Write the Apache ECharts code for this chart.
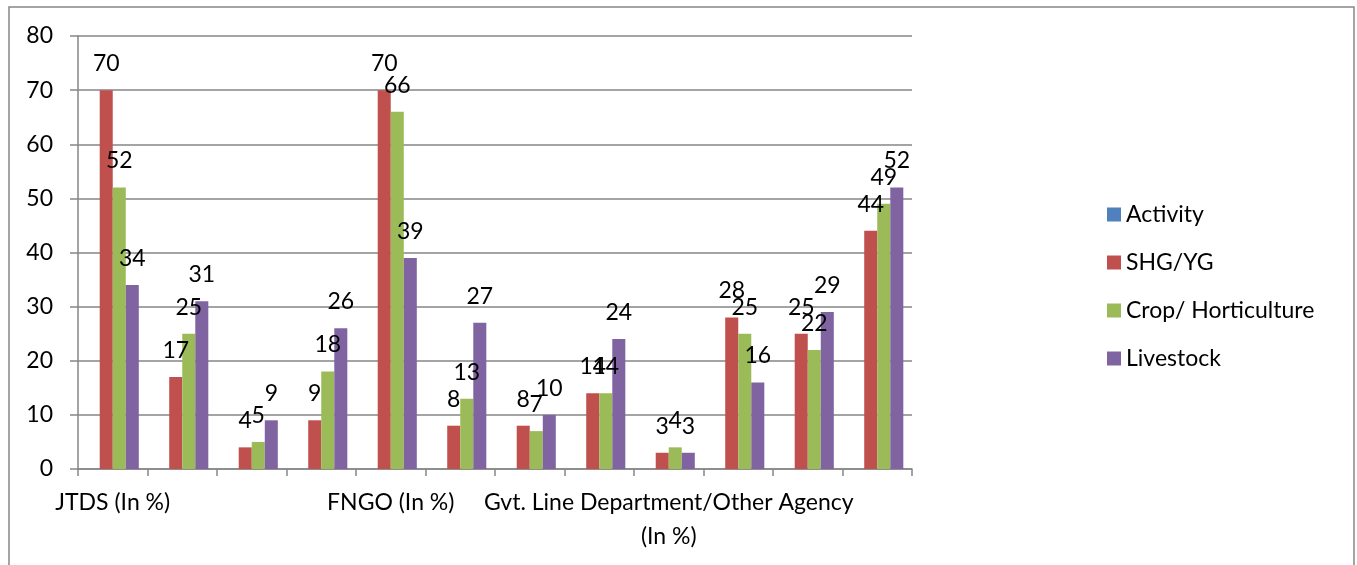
<!DOCTYPE html>
<html>
<head>
<meta charset="utf-8">
<script src="https://cdn.jsdelivr.net/npm/echarts@6/dist/echarts.min.js"></script>
<style>
  html, body { margin: 0; padding: 0; background: #fff; }
  #chart { width: 1357px; height: 565px; }
</style>
</head>
<body>
<div id="chart"></div>
<script>
// categories (only three carry a label in the original)
var categories = ['JTDS (In %)', '', '', '', 'FNGO (In %)', '', '', '',
  'Gvt. Line Department/Other Agency\n(In %)', '', '', ''];
var activity = [null, null, null, null, null, null, null, null, null, null, null, null];
var shgYg = [70, 17, 4, 9, 70, 8, 8, 14, 3, 28, 25, 44];
var cropHorti = [52, 25, 5, 18, 66, 13, 7, 14, 4, 25, 22, 49];
var livestock = [34, 31, 9, 26, 39, 27, 10, 24, 3, 16, 29, 52];
var yTicks = { min: 0, max: 80, interval: 10 };

var font = 'Lato, "Open Sans", sans-serif';
var gridColor = '#868686';

function barSeries(name, data, color) {
  return {
    name: name,
    type: 'bar',
    data: data,
    barGap: '0%',
    barCategoryGap: '25%',
    itemStyle: { color: color },
    label: {
      show: true,
      position: 'top',
      distance: 15,
      fontSize: 23,
      fontFamily: font,
      color: '#000'
    }
  };
}

var myChart = echarts.init(document.getElementById('chart'));
var option = {
  backgroundColor: '#fff',
  animation: false,
  textStyle: { fontFamily: font },
  graphic: [{
    type: 'rect',
    shape: { x: 9, y: 7, width: 1345, height: 600 },
    style: { fill: 'none', stroke: '#868686', lineWidth: 1.5 },
    silent: true
  }],
  grid: { left: 78, right: 445, top: 36, bottom: 96, containLabel: false },
  legend: {
    orient: 'vertical',
    left: 1102,
    top: 198,
    icon: 'rect',
    itemWidth: 14,
    itemHeight: 14,
    itemGap: 25,
    textStyle: { fontSize: 23, fontFamily: font, color: '#000' },
    data: ['Activity', 'SHG/YG', 'Crop/ Horticulture', 'Livestock']
  },
  xAxis: {
    type: 'category',
    data: categories,
    axisLine: { show: true, lineStyle: { color: gridColor, width: 1.5 } },
    axisTick: { show: true, length: 7, lineStyle: { color: gridColor, width: 1.5 } },
    axisLabel: {
      interval: 0,
      margin: 17,
      fontSize: 23,
      fontFamily: font,
      color: '#000',
      lineHeight: 34
    }
  },
  yAxis: {
    type: 'value',
    min: yTicks.min,
    max: yTicks.max,
    interval: yTicks.interval,
    axisLine: { show: true, lineStyle: { color: gridColor, width: 1.5 } },
    axisTick: { show: true, length: 8, lineStyle: { color: gridColor, width: 1.5 } },
    splitLine: { show: true, lineStyle: { color: gridColor, width: 1.5 } },
    axisLabel: { margin: 25, fontSize: 23, fontFamily: font, color: '#000' }
  },
  series: [
    barSeries('Activity', activity, '#4F81BD'),
    barSeries('SHG/YG', shgYg, '#C0504D'),
    barSeries('Crop/ Horticulture', cropHorti, '#9BBB59'),
    barSeries('Livestock', livestock, '#8064A2')
  ]
};
myChart.setOption(option);
</script>
</body>
</html>
